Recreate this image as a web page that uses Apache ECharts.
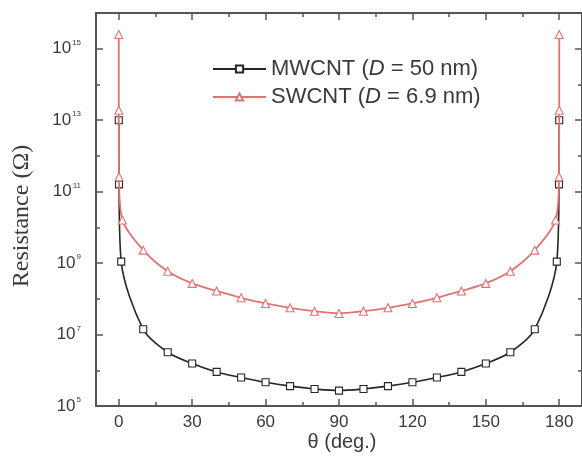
<!DOCTYPE html>
<html>
<head>
<meta charset="utf-8">
<script src="https://cdn.jsdelivr.net/npm/echarts@6/dist/echarts.min.js"></script>
<style>
  html, body { margin: 0; padding: 0; background: #fff; }
  #chart { width: 582px; height: 475px; }
</style>
</head>
<body>
<div id="chart"></div>
<script>
// Angle (deg.) and resistance (Ohm) for each tube type
const mwTheta = [0.01, 0.1, 1, 10, 20, 30, 40, 50, 60, 70, 80, 90,
                 100, 110, 120, 130, 140, 150, 160, 170, 179, 179.9, 179.99];
const mwResistance = [1.0e13, 1.6e11, 1.1e9, 1.4e7, 3.2e6, 1.55e6, 9.0e5, 6.3e5, 4.6e5, 3.6e5, 3.0e5, 2.7e5,
                      3.0e5, 3.6e5, 4.6e5, 6.3e5, 9.0e5, 1.55e6, 3.2e6, 1.4e7, 1.1e9, 1.6e11, 1.0e13];

const swTheta = [0.001, 0.01, 0.1, 1.5, 10, 20, 30, 40, 50, 60, 70, 80, 90,
                 100, 110, 120, 130, 140, 150, 160, 170, 178.5, 179.9, 179.99, 179.999];
const swResistance = [2.5e15, 1.9e13, 2.6e11, 1.6e10, 2.3e9, 5.9e8, 2.7e8, 1.66e8, 1.07e8, 7.4e7, 5.6e7, 4.5e7, 3.9e7,
                      4.5e7, 5.6e7, 7.4e7, 1.07e8, 1.66e8, 2.7e8, 5.9e8, 2.3e9, 1.6e10, 2.6e11, 1.9e13, 2.5e15];

const seriesNames = ['MWCNT', 'SWCNT'];
const diameters = ['50', '6.9'];

const xMajorTicks = [0, 30, 60, 90, 120, 150, 180];
const xMinorTicks = [15, 45, 75, 105, 135, 165];
const yMajorTicks = [1e5, 1e7, 1e9, 1e11, 1e13, 1e15];
const yMinorTicks = [1e6, 1e8, 1e10, 1e12, 1e14];

const axisColor = '#555';
const textColor = '#3a3a3a';
const swColor = '#e07474';
const mwColor = '#262626';

const xRange = { min: -9.3, max: 189.3 };
const yRange = { min: 1e5, max: 1e16 };

function pairs(xs, ys) { return xs.map((x, i) => [x, ys[i]]); }

function xAxisDef(position, ticks, len, withLine, withLabels) {
  return {
    type: 'value', position: position, min: xRange.min, max: xRange.max,
    splitLine: { show: false },
    axisLine: { show: withLine, onZero: false, lineStyle: { color: axisColor, width: 2 } },
    axisTick: { show: true, inside: true, length: len, customValues: ticks,
                lineStyle: { color: axisColor, width: 1.5 } },
    axisLabel: withLabels ? { show: true, customValues: ticks, color: textColor,
                fontFamily: 'Liberation Sans', fontSize: 17, margin: 8 } : { show: false }
  };
}

function yAxisDef(position, ticks, len, withLine, withLabels) {
  return {
    type: 'log', logBase: 10, position: position, min: yRange.min, max: yRange.max,
    splitLine: { show: false },
    axisLine: { show: withLine, onZero: false, lineStyle: { color: axisColor, width: 2 } },
    axisTick: { show: true, inside: true, length: len, customValues: ticks,
                lineStyle: { color: axisColor, width: 1.5 } },
    axisLabel: withLabels ? {
      show: true, customValues: ticks, margin: 15,
      formatter: v => '{b|10}{s|' + Math.round(Math.log10(v)) + '}',
      rich: {
        b: { fontFamily: 'Liberation Sans', fontSize: 17, color: textColor },
        s: { fontFamily: 'Liberation Sans', fontSize: 8, color: textColor, padding: [0, 0, 12, 1] }
      }
    } : { show: false }
  };
}

const chart = echarts.init(document.getElementById('chart'), null, { renderer: 'canvas' });

chart.setOption({
  backgroundColor: '#fff',
  animation: false,
  grid: { left: 96, top: 13, right: -5, bottom: 69, containLabel: false },
  xAxis: [
    xAxisDef('bottom', xMajorTicks, 7, true, true),
    xAxisDef('bottom', xMinorTicks, 4, false, false),
    xAxisDef('top', xMajorTicks, 7, true, false),
    xAxisDef('top', xMinorTicks, 4, false, false)
  ],
  yAxis: [
    yAxisDef('left', yMajorTicks, 7, true, true),
    yAxisDef('left', yMinorTicks, 4, false, false),
    yAxisDef('right', yMajorTicks, 7, true, false),
    yAxisDef('right', yMinorTicks, 4, false, false)
  ],
  graphic: [
    {
      type: 'text', x: 342, y: 442,
      style: { text: 'θ (deg.)', font: '20px "Liberation Sans"', fill: textColor,
               align: 'center', verticalAlign: 'middle' }
    },
    {
      type: 'text', x: 22, y: 216, rotation: Math.PI / 2,
      style: { text: 'Resistance (Ω)', font: '24px "Liberation Serif"', fill: textColor,
               align: 'center', verticalAlign: 'middle' }
    }
  ],
  legend: {
    orient: 'vertical', left: 207, top: 53,
    itemWidth: 53, itemHeight: 9, itemGap: 6,
    data: seriesNames,
    formatter: name => {
      const i = seriesNames.indexOf(name);
      return '{a|' + name + ' (}{i|D}{a| = ' + diameters[i] + ' nm)}';
    },
    textStyle: {
      rich: {
        a: { fontFamily: 'Liberation Sans', fontSize: 22, color: textColor, lineHeight: 22 },
        i: { fontFamily: 'Liberation Sans', fontStyle: 'italic', fontSize: 22, color: textColor, lineHeight: 22 }
      }
    }
  },
  series: [
    {
      name: seriesNames[0], type: 'line', xAxisIndex: 0, yAxisIndex: 0,
      data: pairs(mwTheta, mwResistance),
      smooth: 0.3,
      symbol: 'rect', symbolSize: 7, z: 2,
      lineStyle: { color: mwColor, width: 1.6 },
      itemStyle: { color: '#fff', borderColor: mwColor, borderWidth: 1.1 }
    },
    {
      name: seriesNames[1], type: 'line', xAxisIndex: 0, yAxisIndex: 0,
      data: pairs(swTheta, swResistance),
      smooth: 0.3,
      symbol: 'triangle', symbolSize: 8, z: 3,
      lineStyle: { color: swColor, width: 1.8 },
      itemStyle: { color: '#fff', borderColor: swColor, borderWidth: 1.1 }
    }
  ]
});
</script>
</body>
</html>
